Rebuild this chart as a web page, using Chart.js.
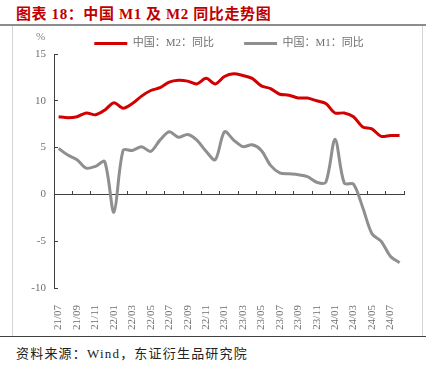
<!DOCTYPE html>
<html lang="zh">
<head>
  <meta charset="UTF-8">
  <title>中国M1及M2同比走势图</title>
  <script src="https://cdn.jsdelivr.net/npm/chart.js"></script>
  <style>
    body { margin: 0; background: #fff; width: 434px; height: 375px; position: relative; overflow: hidden; }
    .title {
      position: absolute; left: 16px; top: 2px;
      font-family: "Liberation Serif", "Noto Sans CJK SC", serif;
      font-weight: bold; font-size: 15px; color: #c00000; letter-spacing: 0.6px;
    }
    .topline { position: absolute; left: 0; top: 24px; width: 426px; height: 2px; background: #8c8c8c; }
    .frame { position: absolute; left: 12px; top: 26px; width: 409px; height: 310px; border-left: 1px solid #d4d4d4; border-right: 1px solid #d4d4d4; }
    .bottomline { position: absolute; left: 0; top: 336px; width: 426px; height: 1px; background: #404040; }
    .unit { position: absolute; left: 36px; top: 30px; font: 11px "Liberation Serif", serif; color: #7f7f7f; }
    .source {
      position: absolute; left: 16px; top: 343px;
      font-family: "Liberation Serif", "Noto Sans CJK SC", serif;
      font-size: 13px; color: #222; letter-spacing: 1.2px;
    }
  </style>
</head>
<body>
  <div class="title">图表 18：中国 M1 及 M2 同比走势图</div>
  <div class="topline"></div>
  <div class="frame">
    <canvas id="moneyChart"></canvas>
  </div>
  <div class="unit">%</div>
  <div class="bottomline"></div>
  <div class="source">资料来源：Wind，东证衍生品研究院</div>

  <script>
    // 月份 21/07 - 24/08
    const months = [
      '21/07', '21/08', '21/09', '21/10', '21/11', '21/12',
      '22/01', '22/02', '22/03', '22/04', '22/05', '22/06',
      '22/07', '22/08', '22/09', '22/10', '22/11', '22/12',
      '23/01', '23/02', '23/03', '23/04', '23/05', '23/06',
      '23/07', '23/08', '23/09', '23/10', '23/11', '23/12',
      '24/01', '24/02', '24/03', '24/04', '24/05', '24/06',
      '24/07', '24/08'
    ];

    const m2 = [
      8.3, 8.2, 8.3, 8.7, 8.5, 9.0,
      9.8, 9.2, 9.7, 10.5, 11.1, 11.4,
      12.0, 12.2, 12.1, 11.8, 12.4, 11.8,
      12.6, 12.9, 12.7, 12.4, 11.6, 11.3,
      10.7, 10.6, 10.3, 10.3, 10.0, 9.7,
      8.7, 8.7, 8.3, 7.2, 7.0, 6.2,
      6.3, 6.3
    ];

    const m1 = [
      4.9, 4.2, 3.7, 2.8, 3.0, 3.5,
      -1.9, 4.7, 4.7, 5.1, 4.6, 5.8,
      6.7, 6.1, 6.4, 5.8, 4.6, 3.7,
      6.7, 5.8, 5.1, 5.3, 4.7, 3.1,
      2.3, 2.2, 2.1, 1.9, 1.3, 1.3,
      5.9, 1.2, 1.1, -1.4, -4.2, -5.0,
      -6.6, -7.3
    ];

    const yTicks = [-10, -5, 0, 5, 10, 15];

    const axisColor = '#404040';
    const textColor = '#6f6f6f';
    const fontFamily = '"Liberation Serif", "Noto Sans CJK SC", serif';

    const ctx = document.getElementById('moneyChart').getContext('2d');
    new Chart(ctx, {
      type: 'line',
      data: {
        labels: months,
        datasets: [
          {
            label: '中国：M2：同比\u3000\u3000',
            data: m2,
            borderColor: '#d20000',
            backgroundColor: '#d20000',
            borderWidth: 3,
            pointRadius: 0,
            tension: 0.3
          },
          {
            label: '中国：M1：同比',
            data: m1,
            borderColor: '#8f8f8f',
            backgroundColor: '#8f8f8f',
            borderWidth: 3,
            pointRadius: 0,
            tension: 0.3
          }
        ]
      },
      options: {
        responsive: true,
        maintainAspectRatio: false,
        animation: false,
        layout: { padding: { top: 4, right: 16, left: 0, bottom: 0 } },
        plugins: {
          tooltip: { enabled: false },
          legend: {
            fullSize: false,
            maxHeight: 24,
            labels: {
              boxWidth: 33,
              boxHeight: 3,
              padding: 8,
              color: textColor,
              font: { family: fontFamily, size: 11 },
              generateLabels: chart => chart.data.datasets.map((ds, i) => ({
                text: ds.label,
                fillStyle: ds.borderColor,
                strokeStyle: ds.borderColor,
                lineWidth: 0,
                fontColor: textColor,
                datasetIndex: i
              }))
            }
          }
        },
        scales: {
          x: {
            type: 'category',
            offset: true,
            grid: { display: false },
            border: { display: false },
            afterFit: s => { s.height = 48; },
            ticks: {
              autoSkip: false,
              maxRotation: 90,
              minRotation: 90,
              padding: 9,
              color: textColor,
              font: { family: fontFamily, size: 11 },
              callback: function(value, index) {
                return index % 2 === 0 ? this.getLabelForValue(value) : '';
              }
            }
          },
          // 零轴 + 刻度线
          x2: {
            type: 'category',
            position: { y: 0 },
            offset: true,
            grid: {
              offset: true,
              drawOnChartArea: false,
              drawTicks: true,
              tickLength: -4,
              lineWidth: 1,
              color: c => (c.index === undefined || c.index % 2 === 0) ? axisColor : 'rgba(0,0,0,0)'
            },
            border: { display: true, color: axisColor, width: 1 },
            ticks: { display: false, autoSkip: false }
          },
          y: {
            min: -10,
            max: 15,
            afterFit: s => { s.width = 41; },
            afterBuildTicks: s => { s.ticks = yTicks.map(v => ({ value: v })); },
            grid: {
              drawOnChartArea: false,
              drawTicks: true,
              tickLength: -4,
              color: axisColor
            },
            border: { display: true, color: axisColor, width: 1 },
            ticks: {
              padding: 12,
              color: textColor,
              font: { family: fontFamily, size: 11 }
            }
          }
        }
      }
    });
  </script>
</body>
</html>
